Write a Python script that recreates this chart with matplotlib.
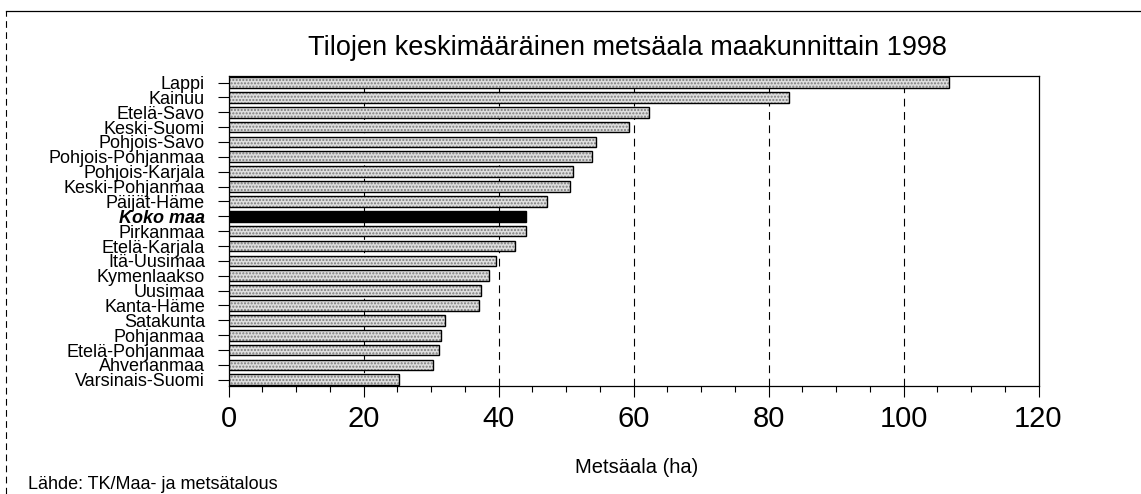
import matplotlib
matplotlib.use('Agg')
import matplotlib.pyplot as plt
from matplotlib.lines import Line2D
from matplotlib.ticker import MultipleLocator
import numpy as np

plt.rcParams['font.family'] = ['Liberation Sans', 'DejaVu Sans']

# data (top to bottom)
regions = ['Lappi', 'Kainuu', 'Etelä-Savo', 'Keski-Suomi', 'Pohjois-Savo',
           'Pohjois-Pohjanmaa', 'Pohjois-Karjala', 'Keski-Pohjanmaa', 'Päijät-Häme',
           'Koko maa', 'Pirkanmaa', 'Etelä-Karjala', 'Itä-Uusimaa', 'Kymenlaakso',
           'Uusimaa', 'Kanta-Häme', 'Satakunta', 'Pohjanmaa', 'Etelä-Pohjanmaa',
           'Ahvenanmaa', 'Varsinais-Suomi']
forest_ha = [106.7, 83.0, 62.3, 59.4, 54.5, 53.8, 51.0, 50.6, 47.2, 44.1, 44.1,
             42.4, 39.7, 38.6, 37.4, 37.1, 32.1, 31.5, 31.2, 30.3, 25.3]
highlight = 'Koko maa'

title = 'Tilojen keskimääräinen metsäala maakunnittain 1998'
xlabel = 'Metsäala (ha)'
source = 'Lähde: TK/Maa- ja metsätalous'

W, H = 1141, 494
fig = plt.figure(figsize=(W / 100, H / 100), dpi=100)
fig.patch.set_facecolor('white')
ax = fig.add_axes([228.5 / W, 1 - 386 / H, 810 / W, 310 / H])

y = np.arange(len(regions))
is_hl = np.array([r == highlight for r in regions])
vals = np.array(forest_ha)

# stippled grey bars: texture layer + black outline
ax.barh(y[~is_hl], vals[~is_hl], height=0.72, color='#dedede', edgecolor='#7a7a7a',
        hatch='.....', linewidth=0, zorder=3)
ax.barh(y[~is_hl], vals[~is_hl], height=0.72, fill=False, edgecolor='black',
        linewidth=1.0, zorder=4)
ax.barh(y[is_hl], vals[is_hl], height=0.72, color='black', edgecolor='black',
        linewidth=1.0, zorder=4)

# dashed grid lines
for gx in [20, 40, 60, 80, 100]:
    ax.axvline(gx, color='black', linestyle=(0, (7, 5)), linewidth=0.8, zorder=1)

ax.set_xlim(0, 120)
ax.set_ylim(20.42, -0.44)
ax.xaxis.set_major_locator(MultipleLocator(20))
ax.xaxis.set_minor_locator(MultipleLocator(5))
ax.tick_params(axis='x', which='major', length=8, width=0.8, labelsize=21, pad=6)
ax.tick_params(axis='x', which='minor', length=4, width=0.8)
ax.set_yticks(y)
ax.set_yticklabels(regions)
ax.tick_params(axis='y', length=8, width=0.8, labelsize=13, pad=9)
for lbl in ax.get_yticklabels():
    if lbl.get_text() == highlight:
        lbl.set_fontweight('bold')
        lbl.set_fontstyle('italic')
for s in ax.spines.values():
    s.set_linewidth(0.9)

fig.text(627.5 / W, 1 - 48 / H, title, ha='center', va='center', fontsize=19.5)
fig.text(637 / W, 1 - 467 / H, xlabel, ha='center', va='center', fontsize=14.5)
fig.text(28 / W, 1 - 484 / H, source, ha='left', va='center', fontsize=13)

# outer frame of the scanned page
fig.add_artist(Line2D([6 / W, 1.0], [1 - 11 / H, 1 - 11 / H], transform=fig.transFigure,
                      color='black', linewidth=0.9))
fig.add_artist(Line2D([6 / W, 6 / W], [0, 1 - 11 / H], transform=fig.transFigure,
                      color='black', linewidth=0.8, linestyle=(0, (6, 4))))

fig.savefig('out.png', dpi=100)
